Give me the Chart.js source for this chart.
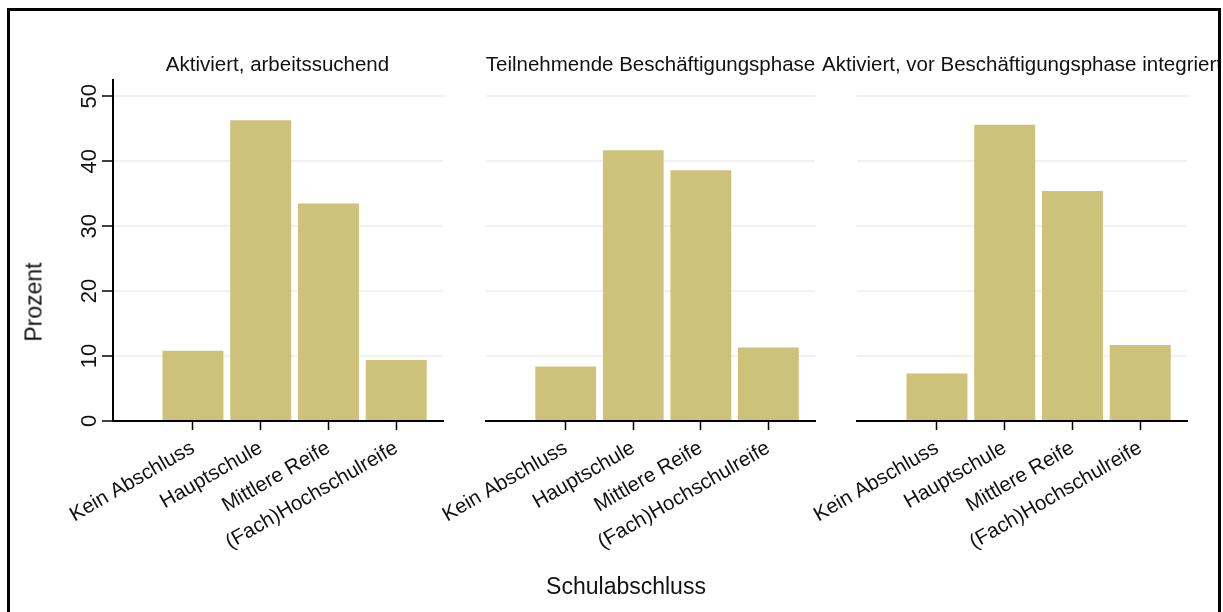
<!DOCTYPE html>
<html><head><meta charset="utf-8">
<script src="https://cdn.jsdelivr.net/npm/chart.js@4.4.0/dist/chart.umd.min.js"></script>
<style>
html,body{margin:0;padding:0;background:#fff;width:1223px;height:612px;overflow:hidden;font-family:"Liberation Sans",Arial,sans-serif;}
#clip{position:absolute;left:0;top:0;width:1218px;height:612px;overflow:hidden;}
#frame{position:absolute;left:7px;top:8px;width:1214px;height:640px;border:3px solid #000;box-sizing:border-box;pointer-events:none;}
canvas{position:absolute;}
.t{position:absolute;white-space:nowrap;color:#111;font-size:20.5px;line-height:1;transform:translateX(-50%);}
.ax{position:absolute;white-space:nowrap;color:#111;font-size:23px;line-height:1;}
</style></head>
<body>
<div id="clip">
  <canvas id="c1" width="450" height="560" style="left:10px;top:40px"></canvas>
  <canvas id="c2" width="420" height="560" style="left:420px;top:40px"></canvas>
  <canvas id="c3" width="420" height="560" style="left:790px;top:40px"></canvas>
  <div class="t" id="t1" style="left:277.5px;top:54px"></div>
  <div class="t" id="t2" style="left:650.5px;top:54px"></div>
  <div class="t" id="t3" style="left:1022px;top:54px"></div>
  <div class="ax" id="ytitle" style="left:34px;top:302px;transform:translate(-50%,-50%) rotate(-90deg)"></div>
  <div class="ax" id="xtitle" style="left:626px;top:575px;transform:translateX(-50%)"></div>
</div>
<div id="frame"></div>
<script>
const categories = ["Kein Abschluss", "Hauptschule", "Mittlere Reife", "(Fach)Hochschulreife"];
const panelTitles = ["Aktiviert, arbeitssuchend", "Teilnehmende Beschäftigungsphase", "Aktiviert, vor Beschäftigungsphase integriert"];
const positions = [1, 2, 3, 4];
const aktiviertArbeitssuchend = [10.8, 46.3, 33.5, 9.4];
const teilnehmendeBeschaeftigung = [8.4, 41.7, 38.6, 11.3];
const aktiviertVorBeschaeftigung = [7.3, 45.6, 35.4, 11.7];
const yTicks = [0, 10, 20, 30, 40, 50];
const yTitle = "Prozent";
const xTitle = "Schulabschluss";

const FONT = "'Liberation Sans', Arial, sans-serif";
const BAR = "rgb(206,194,123)";
const GRID = "rgba(0,0,0,0.055)";

document.getElementById('t1').textContent = panelTitles[0];
document.getElementById('t2').textContent = panelTitles[1];
document.getElementById('t3').textContent = panelTitles[2];
document.getElementById('ytitle').textContent = yTitle;
document.getElementById('xtitle').textContent = xTitle;

function makeChart(id, values, showY, pad) {
  return new Chart(document.getElementById(id), {
    type: 'bar',
    data: {
      datasets: [{
        data: values.map((v, i) => ({ x: positions[i], y: v })),
        backgroundColor: BAR,
        borderWidth: 0,
        categoryPercentage: 1,
        barPercentage: 0.9
      }]
    },
    options: {
      responsive: false,
      animation: false,
      devicePixelRatio: 1,
      layout: { padding: pad },
      plugins: { legend: { display: false }, tooltip: { enabled: false }, title: { display: false } },
      scales: {
        x: {
          type: 'linear', min: -0.18, max: 4.69, offset: false,
          afterBuildTicks: s => { s.ticks = positions.map(v => ({ value: v })); },
          afterFit: s => { s.height = 179; s.paddingLeft = 0; s.paddingRight = 0; },
          ticks: {
            autoSkip: false, minRotation: 30, maxRotation: 30, padding: 6,
            color: '#111', font: { family: FONT, size: 20.5 },
            callback: (v, i) => categories[i]
          },
          grid: { offset: false, drawOnChartArea: false, drawTicks: true, tickLength: 9, tickColor: '#000', tickWidth: 1.5 },
          border: { display: true, color: '#000', width: 2 }
        },
        y: {
          min: 0, max: 52.5,
          afterBuildTicks: s => { s.ticks = yTicks.map(v => ({ value: v })); },
          afterFit: s => { s.width = showY ? 103 : 0; s.paddingTop = 0; s.paddingBottom = 0; },
          ticks: {
            display: showY, minRotation: 90, maxRotation: 90, crossAlign: 'center', padding: 0,
            color: '#111', font: { family: FONT, size: 22 }
          },
          grid: { color: GRID, lineWidth: 2, drawTicks: showY, tickLength: 11, tickColor: '#000', tickWidth: 1.5 },
          border: { display: showY, color: '#000', width: 2 }
        }
      }
    }
  });
}

makeChart('c1', aktiviertArbeitssuchend, true, { left: 0, right: 17, top: 40, bottom: 0 });
makeChart('c2', teilnehmendeBeschaeftigung, false, { left: 66, right: 25, top: 40, bottom: 0 });
makeChart('c3', aktiviertVorBeschaeftigung, false, { left: 67, right: 23, top: 40, bottom: 0 });
</script>
</body></html>
